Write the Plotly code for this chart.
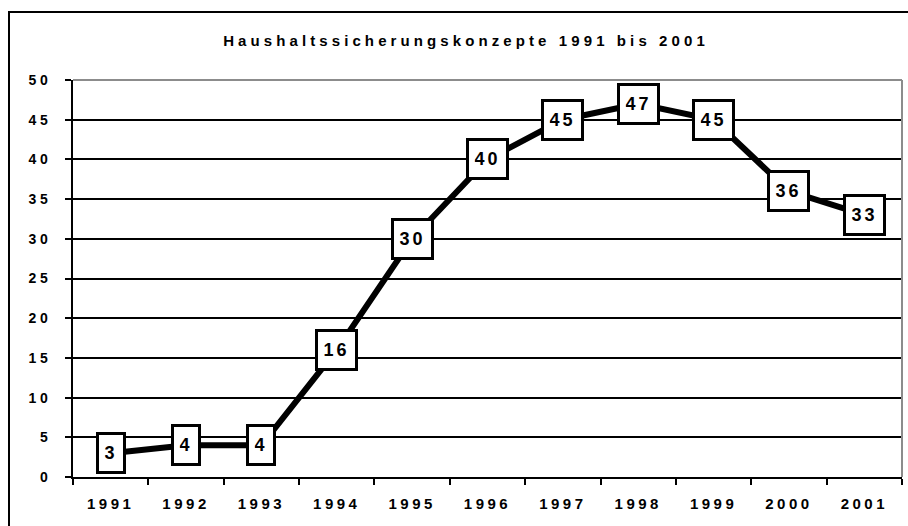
import plotly.graph_objects as go

years = ["1991", "1992", "1993", "1994", "1995", "1996", "1997", "1998", "1999", "2000", "2001"]
values = [3, 4, 4, 16, 30, 40, 45, 47, 45, 36, 33]
y_ticks = [0, 5, 10, 15, 20, 25, 30, 35, 40, 45, 50]
title_text = "Haushaltssicherungskonzepte 1991 bis 2001"

FONT = "Liberation Sans, Arial, sans-serif"


def spaced(s, sp):
    return f"<span style='letter-spacing:{sp}px'>{s}</span>"


fig = go.Figure()
fig.add_trace(go.Scatter(
    x=list(range(len(years))), y=values, mode="lines",
    line=dict(color="black", width=6),
    hoverinfo="skip", showlegend=False,
))

annotations = []
for i, v in enumerate(values):
    annotations.append(dict(
        x=i, y=v, xref="x", yref="y",
        text=f"<b>{spaced(v, 3)}</b>",
        showarrow=False,
        font=dict(family=FONT, size=18, color="black"),
        height=25,
        bgcolor="white", bordercolor="black", borderwidth=3, borderpad=5.5,
        xanchor="center", yanchor="middle",
    ))

shapes = [
    # outer chart border
    dict(type="rect", xref="paper", yref="paper",
         x0=-0.0772, x1=1.02, y0=-0.15, y1=1.171,
         line=dict(color="black", width=2), fillcolor="rgba(0,0,0,0)", layer="below"),
    # plot area top/right border (grey)
    dict(type="line", xref="paper", yref="paper", x0=0, x1=1, y0=1, y1=1,
         line=dict(color="#8c8c8c", width=2), layer="above"),
    dict(type="line", xref="paper", yref="paper", x0=1, x1=1, y0=0, y1=1,
         line=dict(color="#8c8c8c", width=2), layer="above"),
]

fig.update_layout(
    width=908, height=526,
    margin=dict(l=73, r=6, t=80, b=49, autoexpand=False),
    paper_bgcolor="white", plot_bgcolor="white",
    title=dict(
        text=f"<b>{spaced(title_text, 4.1)}</b>",
        font=dict(family=FONT, size=15, color="black"),
        x=466 / 908, xref="container", xanchor="center",
        y=1 - 41 / 526, yref="container", yanchor="middle",
    ),
    annotations=annotations,
    shapes=shapes,
    xaxis=dict(
        tickmode="array", tickvals=list(range(len(years))),
        ticktext=[f"<b>{spaced(y, 3.5)}</b>" for y in years],
        ticks="", showline=True, linecolor="black", linewidth=2,
        showgrid=False, zeroline=False,
        tickfont=dict(family=FONT, size=15, color="black"),
        ticklabelstandoff=12,
        range=[-0.5, 10.5],
        minor=dict(tickmode="array", tickvals=[i - 0.5 for i in range(len(years) + 1)],
                   ticks="outside", ticklen=6, tickwidth=2, tickcolor="black",
                   showgrid=False),
        fixedrange=True,
    ),
    yaxis=dict(
        range=[0, 50],
        tickmode="array", tickvals=y_ticks,
        ticktext=[f"<b>{spaced(t, 3.5)}</b>" for t in y_ticks],
        ticks="outside", ticklen=6, tickwidth=2, tickcolor="black",
        showline=True, linecolor="black", linewidth=2,
        showgrid=True, gridcolor="black", gridwidth=2,
        zeroline=False,
        tickfont=dict(family=FONT, size=14, color="black"),
        ticklabelstandoff=11,
        fixedrange=True,
    ),
)

fig.write_html(
    "out.html",
    config={"displayModeBar": False},
    post_script="document.body.style.margin='0';document.body.style.padding='0';",
)
